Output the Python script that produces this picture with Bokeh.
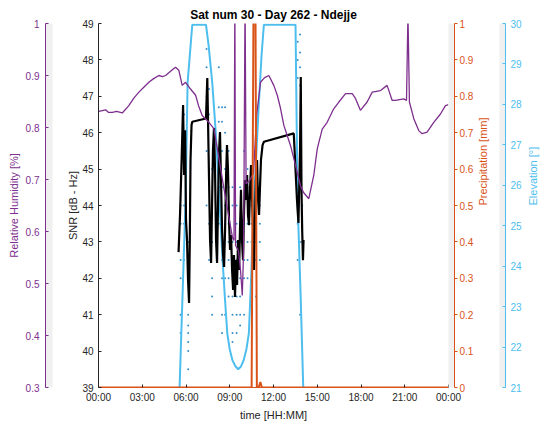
import math
from bokeh.plotting import figure
from bokeh.models import (Range1d, LinearAxis, FixedTicker, CustomJSTickFormatter,
                          PrintfTickFormatter)
from bokeh.embed import file_html
from bokeh.resources import INLINE

# ---------------- data ----------------
rh_hours = [0.03, 0.49, 0.69, 0.95, 1.24, 1.63, 2.08, 2.41, 2.77, 3.09, 3.45, 3.78, 4.14, 4.39,
            4.60, 4.94, 5.28, 5.51, 5.74, 5.97, 6.31, 6.66, 6.86, 7.11, 7.57, 7.91, 8.23, 8.51,
            8.92, 9.19, 9.29, 9.35, 9.40, 9.60, 9.74, 9.86, 9.95, 10.05, 10.12, 10.36, 10.63,
            10.84, 11.11, 11.39, 11.68, 12.02, 12.26, 12.48, 12.71, 13.17, 13.51, 13.85, 14.06,
            14.42, 14.76, 15.00, 15.34, 15.68, 16.13, 16.48, 16.94, 17.40, 17.62, 17.96, 18.42,
            18.77, 19.34, 19.79, 20.14, 20.36, 20.93, 21.12, 21.22, 21.32, 21.62, 21.96, 22.19,
            22.53, 22.99, 23.45, 23.79, 24.0]
rh_values = [0.831, 0.834, 0.829, 0.829, 0.831, 0.828, 0.842, 0.856, 0.868, 0.877, 0.887, 0.894,
             0.900, 0.898, 0.900, 0.908, 0.916, 0.910, 0.881, 0.887, 0.874, 0.862, 0.842, 0.823,
             0.810, 0.798, 0.746, 0.698, 0.631, 0.588, 0.583, 1.05, 0.573, 0.563, 0.525, 0.477,
             0.563, 1.05, 0.692, 0.698, 0.712, 0.823, 0.887, 0.896, 0.900, 0.881, 0.862, 0.837,
             0.804, 0.765, 0.727, 0.688, 0.675, 0.663, 0.708, 0.759, 0.797, 0.810, 0.836, 0.849,
             0.865, 0.865, 0.856, 0.833, 0.849, 0.868, 0.871, 0.881, 0.852, 0.852, 0.855, 0.852,
             1.02, 0.849, 0.817, 0.794, 0.788, 0.791, 0.810, 0.826, 0.842, 0.844]

snr_hours = [5.49, 5.59, 5.70, 5.80, 5.87, 5.94, 6.00, 6.07, 6.14, 6.21, 6.26, 6.31, 6.38, 6.43,
             7.37, 7.46, 7.51, 7.58, 7.65, 7.72, 7.79, 7.85, 7.92, 7.99, 8.06, 8.13, 8.20, 8.27,
             8.33, 8.40, 8.47, 8.54, 8.61, 8.68, 8.75, 8.81, 8.88, 8.95, 9.02, 9.09, 9.16, 9.23,
             9.29, 9.36, 9.43, 9.50, 9.57, 9.64, 9.71, 9.77, 9.84, 9.91, 9.98, 10.05, 10.12,
             10.19, 10.25, 10.32, 10.39, 10.46, 10.53, 10.60, 10.66, 10.73, 10.80, 10.87, 10.94,
             11.01, 11.08, 11.14, 11.25, 11.34, 13.39, 13.61, 13.71, 13.82, 13.87, 13.92, 13.97,
             14.02, 14.06]
snr_values = [42.72, 43.74, 45.25, 46.76, 44.84, 46.07, 43.60, 43.05, 41.95, 41.32, 43.05, 45.25,
              46.21, 46.30, 46.39, 47.50, 46.35, 44.70, 43.05, 42.42, 44.15, 45.52, 46.13, 44.98,
              43.05, 42.42, 44.15, 45.52, 46.02, 44.70, 43.38, 42.64, 42.31, 43.33, 44.84, 45.66,
              44.98, 43.60, 42.78, 43.19, 42.23, 41.68, 42.64, 41.49, 42.50, 41.82, 43.05, 42.23,
              43.46, 44.43, 43.05, 42.50, 43.88, 44.70, 44.15, 44.84, 43.74, 43.46, 44.43, 45.11,
              44.15, 43.33, 42.23, 43.60, 44.84, 45.25, 44.15, 43.74, 44.57, 45.25, 45.66, 45.75,
              45.98, 44.15, 43.52, 45.52, 47.53, 44.43, 43.27, 42.50, 43.05]

elev_hours = [5.52, 5.56, 5.97, 6.11, 6.43, 7.37, 7.55, 7.80, 8.03, 8.23, 8.51, 8.68, 8.83, 8.99,
              9.19, 9.40, 9.58, 9.77, 9.95, 10.15, 10.31, 10.46, 10.60, 10.77, 10.97, 11.18,
              11.34, 13.51, 13.65, 13.85, 14.04, 14.07]
elev_values = [20.7, 21.0, 25.62, 28.54, 29.97, 29.97, 29.46, 28.54, 27.36, 26.07, 24.14, 23.15,
               22.34, 21.96, 21.67, 21.52, 21.45, 21.52, 21.67, 21.96, 22.34, 23.65, 25.13,
               26.37, 27.85, 29.21, 29.97, 29.97, 25.62, 23.40, 21.0, 20.7]

precip_hours = [0, 10.50, 10.66, 10.74, 10.86, 10.98, 11.10, 11.20, 24]
precip_values = [0, 0, 1.3, 1.3, 0, 0, 0.015, 0, 0]

dot_cols = [5.63, 5.87, 6.15, 7.41, 7.58, 7.79, 8.25, 8.47, 8.68, 8.92, 9.19, 9.47, 9.71, 9.98,
            10.22, 10.49, 10.80, 11.06, 13.66, 13.82, 13.97]
dot_levels = [
    [44.0, 43.5, 42.5, 42.0, 41.0, 40.5],
    [46.5, 44.0, 43.5, 42.5],
    [43.0, 42.5, 41.0, 40.7, 40.5, 40.25, 40.0, 39.5],
    [48.3, 47.8, 47.0, 46.5, 45.5, 44.0],
    [47.2, 46.5, 45.0, 43.5, 42.5],
    [45.0, 44.0, 43.0, 42.0, 41.5, 41.0],
    [47.8, 46.7, 46.3, 44.5, 43.5],
    [46.7, 46.3, 45.5, 44.5, 43.0, 42.5, 42.0, 41.0, 40.5],
    [46.7, 46.0, 45.0, 44.0, 43.5, 42.0, 41.0],
    [45.5, 44.5, 43.5, 43.0, 42.5, 42.0, 41.5],
    [44.5, 44.0, 43.0, 42.5, 41.5, 41.0, 40.5, 40.25],
    [44.0, 43.5, 43.0, 42.5, 42.0, 41.5, 41.0, 40.5],
    [44.5, 43.5, 43.0, 42.0, 41.5, 41.0, 40.7],
    [45.5, 44.0, 43.5, 42.5, 42.0, 41.0],
    [45.0, 44.5, 43.5, 43.0, 42.5, 42.0],
    [44.5, 44.0, 43.5, 43.0, 42.0],
    [45.5, 44.5, 44.0, 43.0, 42.5, 41.5],
    [44.5, 44.0, 43.5, 43.0, 42.5],
    [48.5, 48.0, 47.5, 43.5, 42.5],
    [48.7, 48.2, 47.8, 47.3, 43.0, 42.0, 41.0],
    [44.0, 43.0],
]

x_ticks = [0, 3, 6, 9, 12, 15, 18, 21, 24]
snr_ticks = [39, 40, 41, 42, 43, 44, 45, 46, 47, 48, 49]
rh_ticks = [0.3, 0.4, 0.5, 0.6, 0.7, 0.8, 0.9, 1.0]
precip_ticks = [0, 0.1, 0.2, 0.3, 0.4, 0.5, 0.6, 0.7, 0.8, 0.9, 1.0]
elev_ticks = [21, 22, 23, 24, 25, 26, 27, 28, 29, 30]

title_text = "Sat num 30 - Day 262 - Ndejje"

# ---------------- styling ----------------
FONT = "Liberation Sans"
C_AX = "#262626"
C_RH = "#7E2F8E"
C_PR = "#D95319"
C_EL = "#4DBEEE"
C_DOT = "#0072BD"
BAND = "#f0f0f0"

p = figure(width=547, height=423, output_backend="svg", toolbar_location=None,
           x_range=Range1d(0, 24), y_range=Range1d(39, 49),
           min_border_left=98, min_border_right=98, min_border_top=23, min_border_bottom=36)
p.extra_y_ranges = {"rh": Range1d(0.3, 1.0), "pr": Range1d(0, 1.0), "el": Range1d(21, 30)}
p.outline_line_color = None
p.xgrid.visible = False
p.ygrid.visible = False
p.background_fill_color = "white"
p.border_fill_color = "white"

p.title.text = title_text
p.title.align = "center"
p.title.text_font = FONT
p.title.text_font_size = "12px"
p.title.text_font_style = "bold"
p.title.text_color = "black"
p.title.standoff = 4


def style_axis(ax, color, label, ticks, tick_in=3, tick_out=0, lab_standoff=5, axl_standoff=3,
               line_color=None):
    ax.ticker = FixedTicker(ticks=ticks)
    ax.axis_label = label
    ax.axis_line_color = line_color or color
    ax.major_tick_line_color = color
    ax.major_tick_in = tick_in
    ax.major_tick_out = tick_out
    ax.minor_tick_line_color = None
    ax.major_label_text_color = color
    ax.major_label_text_font = FONT
    ax.major_label_text_font_size = "10px"
    ax.major_label_standoff = lab_standoff
    ax.axis_label_text_color = color
    ax.axis_label_text_font = FONT
    ax.axis_label_text_font_size = "11px"
    ax.axis_label_text_font_style = "normal"
    ax.axis_label_standoff = axl_standoff


def spacer(width, fill=None):
    # blank axis used only to reserve a strip of the given width beside the plot
    ax = LinearAxis(ticker=FixedTicker(ticks=[44]), axis_line_color=None,
                    major_tick_line_color=None, minor_tick_line_color=None,
                    major_tick_in=0, major_tick_out=int(width), minor_tick_out=0,
                    major_label_standoff=0, major_label_text_font_size="1px",
                    major_label_text_alpha=0, axis_label=None,
                    formatter=CustomJSTickFormatter(code="return '';"))
    if fill is not None:
        try:
            ax.background_fill_color = fill
        except Exception:
            pass
    return ax


xa = p.xaxis[0]
style_axis(xa, C_AX, "time [HH:MM]", x_ticks, lab_standoff=4, axl_standoff=3, line_color=C_PR)
xa.formatter = CustomJSTickFormatter(
    code="const h = Math.round(tick) % 24; return (h < 10 ? '0' : '') + h + ':00';")

ya = p.yaxis[0]
style_axis(ya, C_AX, "SNR [dB - Hz]", snr_ticks, lab_standoff=5, axl_standoff=0)

p.add_layout(spacer(12), "left")
p.add_layout(spacer(7, BAND), "left")
rh_ax = LinearAxis(y_range_name="rh")
style_axis(rh_ax, C_RH, "Relative Humidity [%]", rh_ticks, lab_standoff=6, axl_standoff=3)
rh_ax.formatter = PrintfTickFormatter(format="%g")
p.add_layout(rh_ax, "left")

p.add_layout(spacer(6, BAND), "right")
pr_ax = LinearAxis(y_range_name="pr")
style_axis(pr_ax, C_PR, "Precipitation [mm]", precip_ticks, tick_in=0, tick_out=3,
           lab_standoff=2, axl_standoff=7)
pr_ax.formatter = PrintfTickFormatter(format="%g")
p.add_layout(pr_ax, "right")
p.add_layout(spacer(1), "right")
p.add_layout(spacer(6, BAND), "right")
el_ax = LinearAxis(y_range_name="el")
style_axis(el_ax, C_EL, "Elevation [°]", elev_ticks, lab_standoff=5, axl_standoff=8)
p.add_layout(el_ax, "right")
for ax in (pr_ax, el_ax):
    try:
        ax.axis_label_orientation = math.pi / 2
    except Exception:
        pass
    try:
        ax.axis_label_text_line_height = 0.6
    except Exception:
        pass

# ---------------- glyphs ----------------
dot_x = [c for c, lv in zip(dot_cols, dot_levels) for _ in lv]
dot_y = [v for lv in dot_levels for v in lv]
p.scatter(dot_x, dot_y, marker="circle", size=2, fill_color=C_DOT, line_color=None,
          fill_alpha=0.8)
p.line(elev_hours, elev_values, y_range_name="el", line_color=C_EL, line_width=2)
p.line(snr_hours, snr_values, line_color="black", line_width=2.2)
p.line(rh_hours, rh_values, y_range_name="rh", line_color=C_RH, line_width=1.3)
p.line(precip_hours, precip_values, y_range_name="pr", line_color=C_PR, line_width=2)

open("out.html", "w").write(file_html(p, INLINE))
